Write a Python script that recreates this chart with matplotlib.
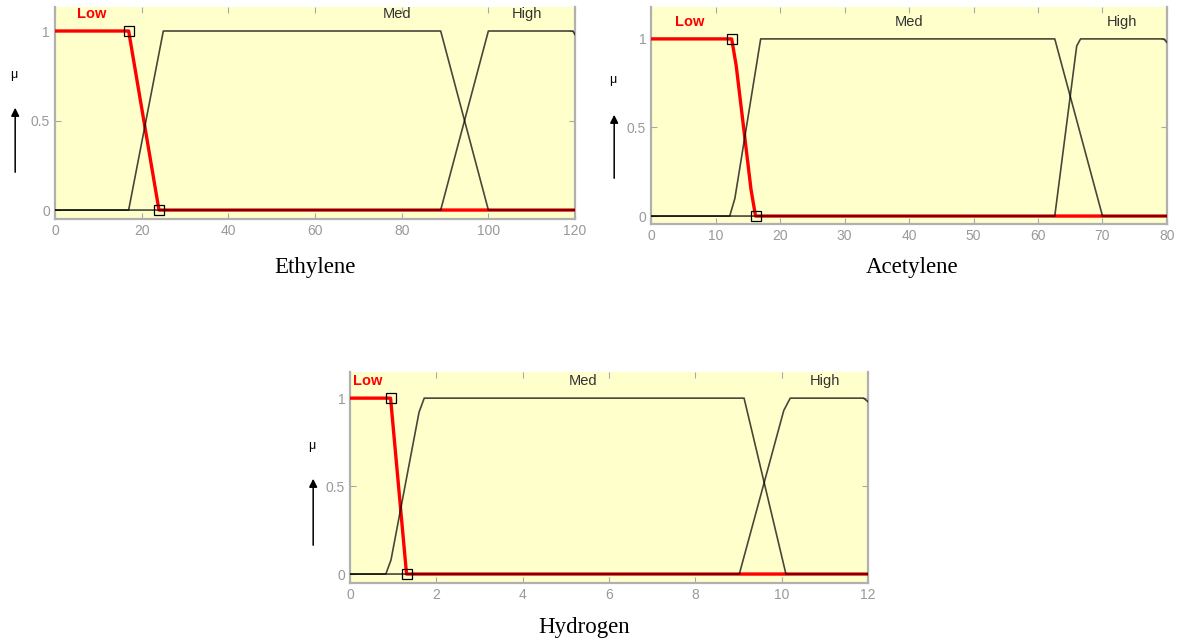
import matplotlib
matplotlib.use("Agg")
import matplotlib.pyplot as plt

# ---------------- data ----------------
# Ethylene
eth_low_x = [0, 17, 24, 120]
eth_low_y = [1, 1, 0, 0]
eth_med_x = [0, 17, 25, 89, 100, 120]
eth_med_y = [0, 0, 1, 1, 0, 0]
eth_high_x = [0, 89, 100, 119.5, 120]
eth_high_y = [0, 0, 1, 1, 0.98]
eth_ticks = [0, 20, 40, 60, 80, 100, 120]
eth_lbl_x = [8.5, 79, 109]

# Acetylene
ace_low_x = [0, 12.5, 13.2, 15.5, 16.2, 80]
ace_low_y = [1, 1, 0.85, 0.15, 0, 0]
ace_med_x = [0, 12.2, 13.0, 17, 62.6, 70, 80]
ace_med_y = [0, 0, 0.1, 1, 1, 0, 0]
ace_high_x = [0, 62.6, 66.0, 66.6, 79.5, 80]
ace_high_y = [0, 0, 0.96, 1, 1, 0.98]
ace_ticks = [0, 10, 20, 30, 40, 50, 60, 70, 80]
ace_lbl_x = [6, 40, 73]

# Hydrogen
hyd_low_x = [0, 0.94, 1.31, 12]
hyd_low_y = [1, 1, 0, 0]
hyd_med_x = [0, 0.83, 0.95, 1.6, 1.72, 9.13, 10.1, 12]
hyd_med_y = [0, 0, 0.08, 0.92, 1, 1, 0, 0]
hyd_high_x = [0, 9.02, 10.05, 10.2, 11.9, 12]
hyd_high_y = [0, 0, 0.93, 1, 1, 0.98]
hyd_ticks = [0, 2, 4, 6, 8, 10, 12]
hyd_lbl_x = [0.42, 5.4, 11.0]

names = ["Low", "Med", "High"]
y_ticks = [0, 0.5, 1]
y_tick_labels = ["0", "0.5", "1"]

plt.rcParams['font.family'] = ['Liberation Sans', 'DejaVu Sans']

fig = plt.figure(figsize=(11.82, 6.43), dpi=100)


def mf_axes(rect, ylim, low, med, high, ticks, lbl_x):
    ax = fig.add_axes(rect)
    ax.set_facecolor('#ffffcc')
    xmax = ticks[-1]
    # low curve red, bold, with square handles
    ax.plot(low[0], low[1], color='red', lw=2.4, zorder=3)
    ax.plot([low[0][1], low[0][-2]], [1, 0], ls='none', marker='s', ms=7,
            mfc='none', mec='black', mew=0.9, zorder=5)
    ax.plot(med[0], med[1], color='black', alpha=0.72, lw=1.2, zorder=4)
    ax.plot(high[0], high[1], color='black', alpha=0.72, lw=1.2, zorder=4)
    ax.set_xlim(0, xmax)
    ax.set_ylim(*ylim)
    ax.set_xticks(ticks)
    ax.set_yticks(y_ticks)
    ax.set_yticklabels(y_tick_labels)
    ax.tick_params(direction='in', length=4, colors='#a8a8a8', labelcolor='#999999',
                   labelsize=10, top=True, right=True)
    for s in ['left', 'bottom', 'right']:
        ax.spines[s].set_color('#b0b0b0')
        ax.spines[s].set_linewidth(1.6)
    ax.spines['top'].set_visible(False)
    ax.text(lbl_x[0], 1.095, names[0], color='red', fontsize=10.5, fontweight='bold',
            ha='center', va='center')
    ax.text(lbl_x[1], 1.095, names[1], color='#333333', fontsize=10.5,
            ha='center', va='center')
    ax.text(lbl_x[2], 1.095, names[2], color='#333333', fontsize=10.5,
            ha='center', va='center')
    return ax


ax1 = mf_axes([0.0465, 0.6594, 0.440, 0.3297], (-0.05, 1.134),
              (eth_low_x, eth_low_y), (eth_med_x, eth_med_y), (eth_high_x, eth_high_y),
              eth_ticks, eth_lbl_x)
ax2 = mf_axes([0.5508, 0.6516, 0.4365, 0.3375], (-0.045, 1.18),
              (ace_low_x, ace_low_y), (ace_med_x, ace_med_y), (ace_high_x, ace_high_y),
              ace_ticks, ace_lbl_x)
ax3 = mf_axes([0.2961, 0.0933, 0.4382, 0.328], (-0.051, 1.148),
              (hyd_low_x, hyd_low_y), (hyd_med_x, hyd_med_y), (hyd_high_x, hyd_high_y),
              hyd_ticks, hyd_lbl_x)

# captions under each panel
for tx, ty, t in [(315, 268, "Ethylene"), (912, 268, "Acetylene"), (584, 627, "Hydrogen")]:
    fig.text(tx / 1182, 1 - ty / 643, t, fontsize=16.5, family='Liberation Serif',
             ha='center', va='center')

# mu labels with upward arrows (figure pixel coords)
for mx, my, ay0, ay1 in [(14, 75, 175, 105), (613, 80, 181, 112), (312, 446, 548, 476)]:
    fig.text(mx / 1182, 1 - my / 643, "\u03bc", fontsize=9, ha='center', va='center')
    fig.add_artist(matplotlib.patches.FancyArrowPatch(
        (mx / 1182 + 0.001, 1 - ay0 / 643), (mx / 1182 + 0.001, 1 - ay1 / 643),
        transform=fig.transFigure, arrowstyle='-|>', mutation_scale=12,
        color='black', lw=1.1))

fig.savefig("out.png", dpi=100)
